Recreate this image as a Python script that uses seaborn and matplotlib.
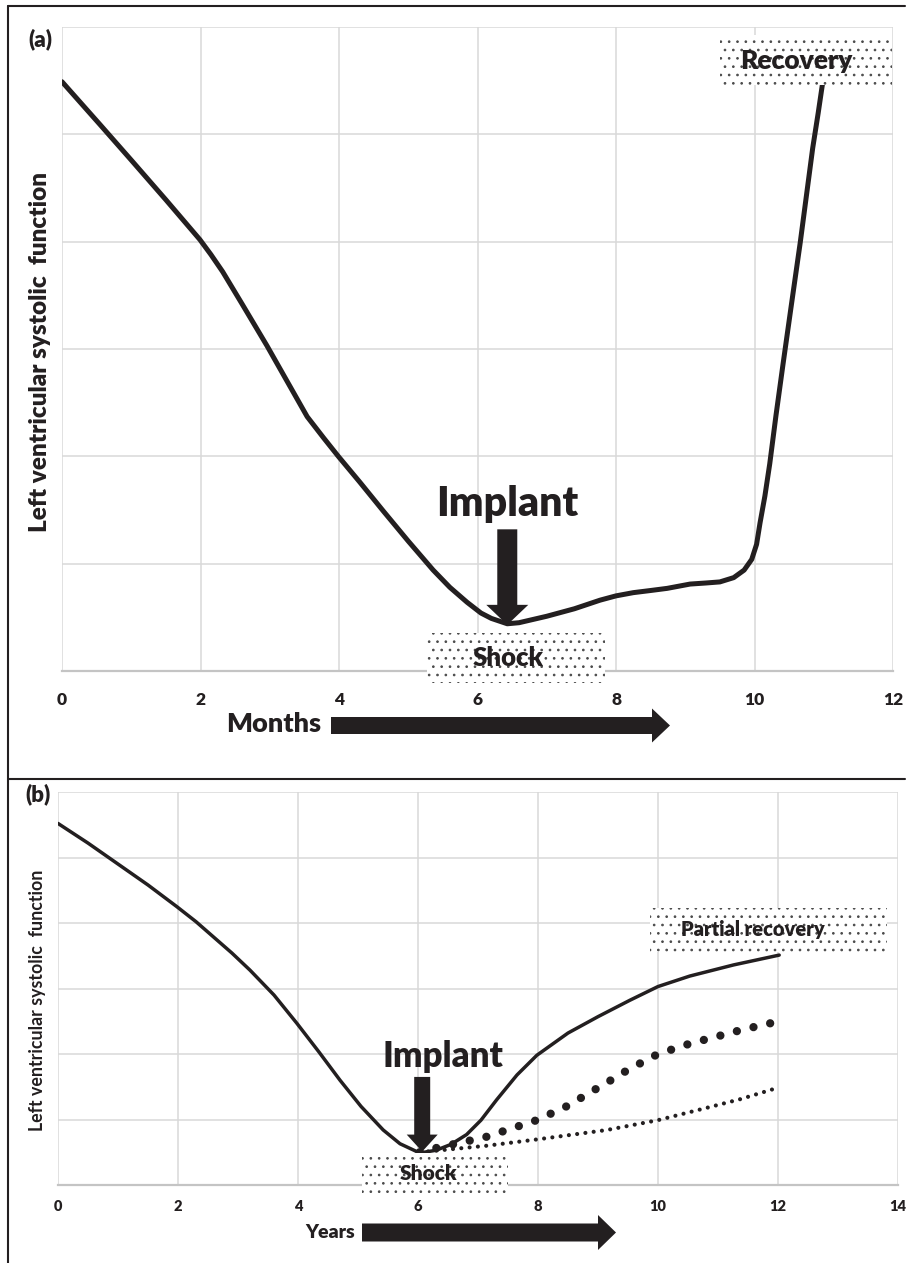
import matplotlib
matplotlib.use("Agg")
import matplotlib.pyplot as plt
import seaborn as sns
import pandas as pd
from matplotlib.patches import Rectangle, FancyArrowPatch
from matplotlib.lines import Line2D

# ---------------- data ----------------
# Panel (a): LV systolic function over months
a_months = [0, 0.55, 1.0, 1.5, 1.99, 2.15, 2.32, 2.6, 2.96, 3.25, 3.54, 3.78, 3.99, 4.3,
            4.64, 5.0, 5.36, 5.6, 5.85, 6.05, 6.2, 6.43, 6.6, 6.8, 7.0, 7.4, 7.77, 8.0,
            8.25, 8.5, 8.74, 9.07, 9.3, 9.5, 9.7, 9.85, 9.96, 10.03, 10.08, 10.15, 10.22,
            10.31, 10.41, 10.53, 10.66, 10.75, 10.84, 10.92, 11.0]
a_lvsf = [5.49, 5.09, 4.76, 4.39, 4.02, 3.88, 3.72, 3.42, 3.03, 2.70, 2.37, 2.17, 2.00, 1.76,
          1.49, 1.21, 0.94, 0.78, 0.64, 0.54, 0.49, 0.44, 0.45, 0.48, 0.51, 0.58, 0.66, 0.70,
          0.73, 0.75, 0.77, 0.81, 0.82, 0.83, 0.87, 0.94, 1.04, 1.18, 1.38, 1.63, 1.93,
          2.38, 2.85, 3.40, 3.99, 4.43, 4.87, 5.20, 5.55]

# Panel (b): LV systolic function over years
b_years_solid = [0, 0.5, 1.0, 1.5, 1.98, 2.3, 2.6, 2.9, 3.2, 3.6, 3.98, 4.35, 4.7, 5.05,
                 5.42, 5.7, 5.98, 6.1, 6.3, 6.55, 6.81, 7.05, 7.31, 7.65, 7.98, 8.5, 9.0,
                 9.53, 10.0, 10.53, 11.26, 12.02]
b_lvsf_solid = [5.52, 5.22, 4.90, 4.58, 4.25, 4.02, 3.78, 3.54, 3.28, 2.90, 2.47, 2.03, 1.60,
                1.20, 0.84, 0.63, 0.51, 0.50, 0.53, 0.62, 0.77, 0.99, 1.30, 1.68, 1.98, 2.32,
                2.57, 2.82, 3.03, 3.19, 3.36, 3.51]

b_years_bigdot = [6.03, 6.28, 6.7, 7.12, 7.98, 8.52, 8.77, 9.27, 9.52, 10.0, 10.57, 10.83, 11.4, 11.97]
b_lvsf_bigdot = [0.50, 0.56, 0.645, 0.73, 0.99, 1.22, 1.36, 1.63, 1.77, 2.00, 2.17, 2.23, 2.37, 2.49]

b_years_smalldot = [6.03, 6.37, 7.15, 8.02, 9.15, 10.0, 10.82, 11.37, 11.98]
b_lvsf_smalldot = [0.50, 0.53, 0.60, 0.70, 0.84, 0.99, 1.18, 1.31, 1.48]

a_xticks = [0, 2, 4, 6, 8, 10, 12]
b_xticks = [0, 2, 4, 6, 8, 10, 12, 14]

ylabel_text = "Left ventricular systolic  function"

# ---------------- style ----------------
sns.set_theme(style="whitegrid")
plt.rcParams['font.family'] = ['Lato', 'DejaVu Sans']
plt.rcParams['hatch.linewidth'] = 0.7
plt.rcParams['hatch.color'] = '#4a4a4a'

INK = '#231f20'
GRID = '#d9d9d9'
AXIS = '#c4c4c4'
HW = 'heavy'

W, H = 910, 1263
fig = plt.figure(figsize=(W / 100, H / 100), dpi=100)
fig.patch.set_facecolor('white')


def ax_rect(l, t, r, b):
    return [l / W, 1 - b / H, (r - l) / W, (b - t) / H]


def fpx(x, y):
    """image pixel (top-left origin) -> figure pixels"""
    return (x, H - y)


axA = fig.add_axes(ax_rect(62, 27, 893, 671))
axB = fig.add_axes(ax_rect(58, 792, 898, 1185))


def style_axes(ax, xmax, xticks, labelsize, pad):
    ax.set_xlim(0, xmax)
    ax.set_ylim(0, 6)
    ax.set_xticks(xticks)
    ax.set_yticks(range(0, 7))
    ax.set_yticklabels([])
    ax.set_xticklabels([str(t) for t in xticks], fontweight=HW, fontsize=labelsize, color=INK)
    ax.tick_params(axis='both', length=0, pad=pad)
    ax.grid(True, color=GRID, linewidth=1.1)
    for s in ['top', 'left', 'right']:
        ax.spines[s].set_visible(False)
    ax.spines['bottom'].set_color(AXIS)
    ax.spines['bottom'].set_linewidth(1.6)
    ax.set_facecolor('white')
    ax.set_xlabel('')
    ax.set_ylabel('')


def dotted_box(ax, x, y, w, h):
    ax.add_patch(Rectangle((x, y), w, h, facecolor='white', edgecolor='#4a4a4a',
                           linewidth=0, hatch='..', zorder=5, clip_on=False))


# ---------------- panel (a) ----------------
dfa = pd.DataFrame({'months': a_months, 'lvsf': a_lvsf})
sns.lineplot(data=dfa, x='months', y='lvsf', ax=axA, color=INK, linewidth=3.6,
             sort=False, estimator=None, solid_joinstyle='round', zorder=3)
style_axes(axA, 12, a_xticks, 12.5, 15)

dotted_box(axA, 9.50, 5.46, 2.49, 0.47)
axA.text(10.61, 5.68, 'Recovery', ha='center', va='center', fontsize=19, fontweight=HW,
         color=INK, zorder=6)
dotted_box(axA, 5.27, -0.11, 2.57, 0.465)
axA.text(6.44, 0.12, 'Shock', ha='center', va='center', fontsize=18.5, fontweight=HW,
         color=INK, zorder=6, clip_on=False)
axA.text(6.43, 1.56, 'Implant', ha='center', va='center', fontsize=29.5, fontweight=HW,
         color=INK, zorder=6)
axA.annotate('', xy=(6.43, 0.43), xytext=(6.43, 1.32),
             arrowprops=dict(arrowstyle='simple,head_length=20,head_width=42,tail_width=20',
                             mutation_scale=0.72, fc=INK, ec='none', shrinkA=0, shrinkB=0),
             zorder=6)

# ---------------- panel (b) ----------------
dfb1 = pd.DataFrame({'years': b_years_solid, 'lvsf': b_lvsf_solid})
dfb2 = pd.DataFrame({'years': b_years_bigdot, 'lvsf': b_lvsf_bigdot})
dfb3 = pd.DataFrame({'years': b_years_smalldot, 'lvsf': b_lvsf_smalldot})
sns.lineplot(data=dfb1, x='years', y='lvsf', ax=axB, color=INK, linewidth=2.5,
             sort=False, estimator=None, solid_joinstyle='round', zorder=3)
sns.lineplot(data=dfb2, x='years', y='lvsf', ax=axB, color=INK, linewidth=6.0,
             sort=False, estimator=None, linestyle=(0, (0.001, 2.05)),
             dash_capstyle='round', zorder=3)
sns.lineplot(data=dfb3, x='years', y='lvsf', ax=axB, color=INK, linewidth=3.0,
             sort=False, estimator=None, linestyle=(0, (0.001, 2.0)),
             dash_capstyle='round', zorder=3)
style_axes(axB, 14, b_xticks, 10.5, 11)

dotted_box(axB, 9.87, 3.56, 3.95, 0.67)
axB.text(11.58, 3.90, 'Partial recovery', ha='center', va='center', fontsize=14.5,
         fontweight=HW, color=INK, zorder=6)
dotted_box(axB, 5.06, -0.12, 2.44, 0.61)
axB.text(6.17, 0.18, 'Shock', ha='center', va='center', fontsize=15, fontweight=HW,
         color=INK, zorder=6, clip_on=False)
axB.text(6.42, 1.96, 'Implant', ha='center', va='center', fontsize=25, fontweight=HW,
         color=INK, zorder=6)
axB.annotate('', xy=(6.07, 0.51), xytext=(6.07, 1.65),
             arrowprops=dict(arrowstyle='simple,head_length=17,head_width=31,tail_width=16',
                             mutation_scale=0.72, fc=INK, ec='none', shrinkA=0, shrinkB=0),
             zorder=6)

# ---------------- figure-level annotations ----------------
fig.text(40 / W, 1 - 39 / H, '(a)', ha='center', va='center', fontsize=16, fontweight=HW, color=INK)
fig.text(38 / W, 1 - 794 / H, '(b)', ha='center', va='center', fontsize=16, fontweight=HW, color=INK)

fig.text(40 / W, 1 - 352 / H, ylabel_text, rotation=90, ha='center', va='center',
         fontsize=17.5, fontweight=HW, color=INK)
fig.text(38 / W, 1 - 1000 / H, ylabel_text, rotation=90, ha='center', va='center',
         fontsize=12.8, fontweight='bold', color=INK)

fig.text(274 / W, 1 - 724 / H, 'Months', ha='center', va='center', fontsize=19.5,
         fontweight=HW, color=INK)
fig.patches.append(FancyArrowPatch(
    posA=fpx(331, 725.5), posB=fpx(670, 725.5), transform=None,
    arrowstyle='simple,head_length=18,head_width=34,tail_width=17', mutation_scale=0.72,
    fc=INK, ec='none', shrinkA=0, shrinkB=0))
fig.text(330 / W, 1 - 1233 / H, 'Years', ha='center', va='center', fontsize=14,
         fontweight=HW, color=INK)
fig.patches.append(FancyArrowPatch(
    posA=fpx(362, 1232.5), posB=fpx(616, 1232.5), transform=None,
    arrowstyle='simple,head_length=18,head_width=35,tail_width=18', mutation_scale=0.72,
    fc=INK, ec='none', shrinkA=0, shrinkB=0))

# Frame lines
for (x0, y0, x1, y1) in [(8, 6, 905, 6), (8, 6, 8, 1263), (8, 779, 905, 779)]:
    fig.lines.append(Line2D([x0 / W, x1 / W], [1 - y0 / H, 1 - y1 / H], transform=fig.transFigure,
                            color=INK, linewidth=1.5))

fig.savefig('out.png', dpi=100, facecolor='white')
